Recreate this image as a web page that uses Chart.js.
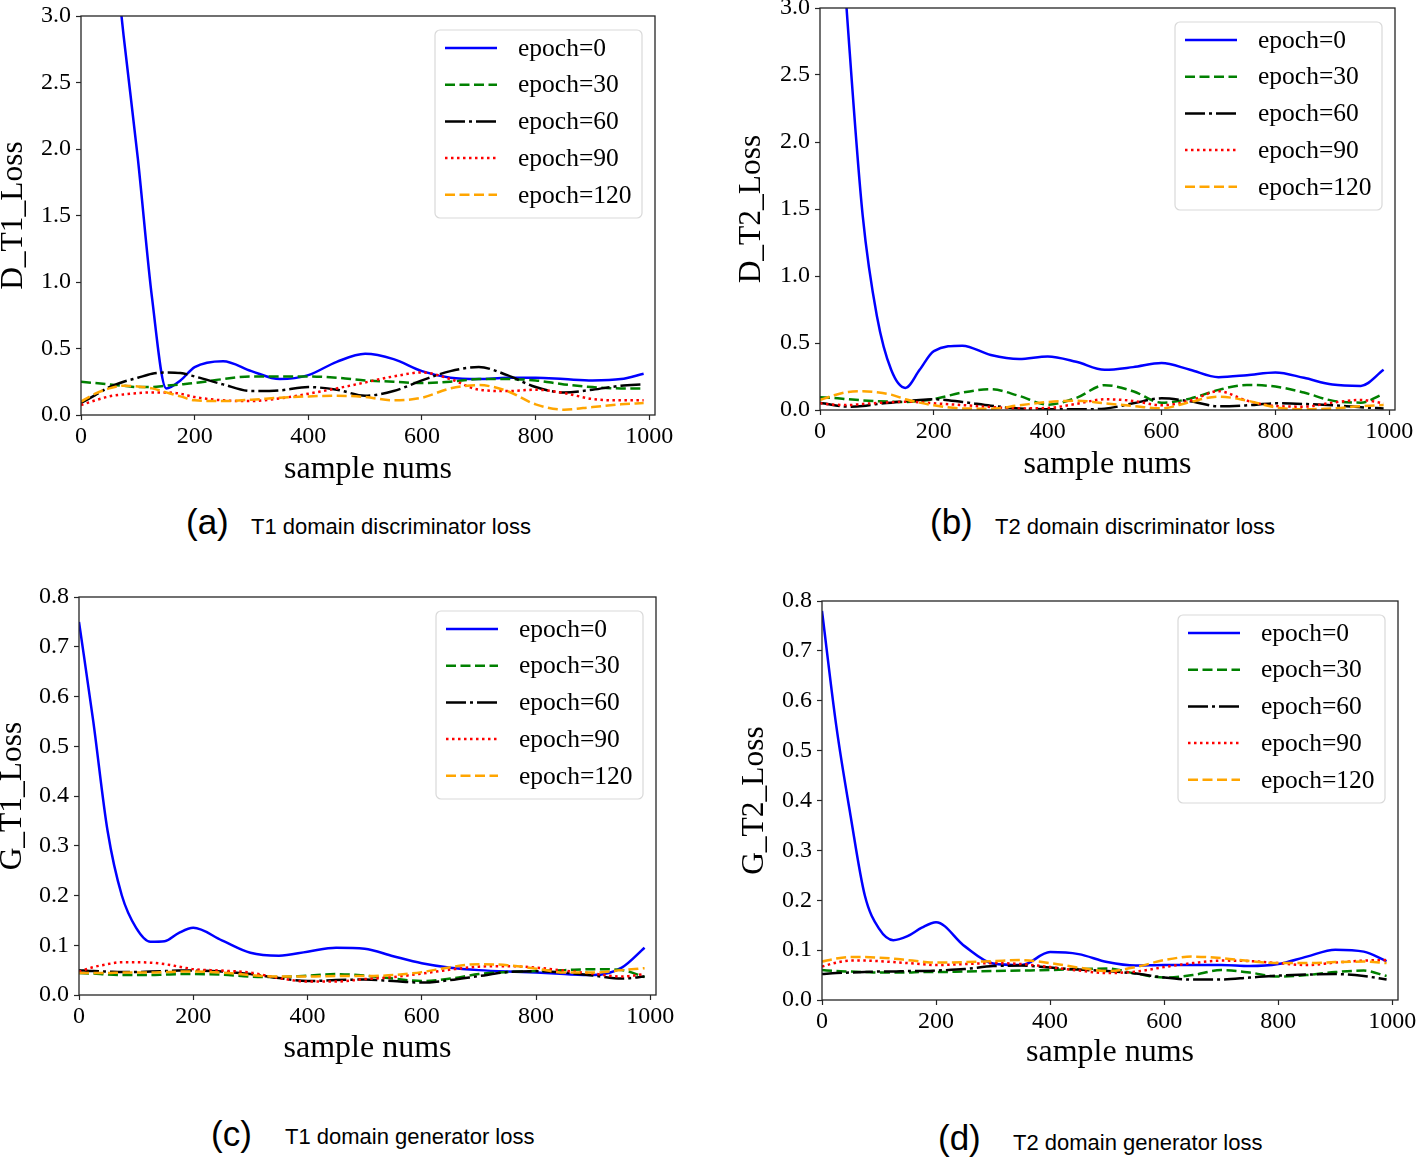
<!DOCTYPE html>
<html><head><meta charset="utf-8">
<script src="https://cdn.jsdelivr.net/npm/chart.js@4.4.1/dist/chart.umd.min.js"></script>
<style>
body{margin:0;background:#fff;width:1418px;height:1157px;position:relative;overflow:hidden}
canvas{position:absolute}
.cap{position:absolute;font-family:"Liberation Sans",Arial,sans-serif;color:#000;white-space:nowrap}
.big{font-size:35px;line-height:40px}
.small{font-size:22px;line-height:26px}
</style></head><body>
<canvas id="ca" width="709" height="500" style="left:0;top:0"></canvas>
<canvas id="cb" width="709" height="500" style="left:709px;top:0"></canvas>
<canvas id="cc" width="709" height="500" style="left:0;top:580px"></canvas>
<canvas id="cd" width="709" height="500" style="left:709px;top:580px"></canvas>

<div class="cap big" style="left:186px;top:502px">(a)</div>
<div class="cap small" style="left:251px;top:514px">T1 domain discriminator loss</div>
<div class="cap big" style="left:930px;top:502px">(b)</div>
<div class="cap small" style="left:995px;top:514px">T2 domain discriminator loss</div>
<div class="cap big" style="left:211px;top:1114px">(c)</div>
<div class="cap small" style="left:285px;top:1124px">T1 domain generator loss</div>
<div class="cap big" style="left:938px;top:1118px">(d)</div>
<div class="cap small" style="left:1013px;top:1130px">T2 domain generator loss</div>

<script>
// ---- data ----
const sampleNums = [0,25,50,75,100,125,150,175,200,250,300,350,400,450,500,550,600,650,700,750,800,850,900,950,990];
const xTickValues = [0,200,400,600,800,1000];
const dTickValues = [0,0.5,1.0,1.5,2.0,2.5,3.0];
const gTickValues = [0,0.1,0.2,0.3,0.4,0.5,0.6,0.7,0.8];
const seriesLabels = ['epoch=0','epoch=30','epoch=60','epoch=90','epoch=120'];

// (a) D_T1_Loss
const blueA   = [6.3,5.0,3.85,2.85,1.93,0.88,0.2,0.26,0.36,0.405,0.33,0.27,0.30,0.40,0.46,0.42,0.33,0.28,0.27,0.28,0.28,0.27,0.26,0.27,0.31];
const greenA  = [0.25,0.24,0.23,0.22,0.21,0.21,0.22,0.23,0.24,0.27,0.29,0.29,0.29,0.28,0.26,0.25,0.24,0.25,0.27,0.27,0.26,0.23,0.21,0.2,0.2];
const blackA  = [0.09,0.15,0.21,0.25,0.28,0.31,0.32,0.315,0.29,0.23,0.18,0.185,0.21,0.19,0.145,0.18,0.26,0.33,0.36,0.3,0.21,0.17,0.19,0.22,0.23];
const redA    = [0.075,0.11,0.14,0.155,0.165,0.17,0.17,0.16,0.135,0.11,0.105,0.125,0.16,0.2,0.245,0.29,0.32,0.27,0.19,0.18,0.19,0.165,0.12,0.11,0.11];
const orangeA = [0.1,0.16,0.2,0.22,0.215,0.2,0.17,0.14,0.11,0.105,0.115,0.13,0.14,0.145,0.135,0.11,0.13,0.2,0.225,0.18,0.08,0.04,0.06,0.08,0.09];

// (b) D_T2_Loss
const blueB   = [6.5,4.4,2.8,1.45,0.7,0.3,0.165,0.3,0.44,0.48,0.41,0.38,0.40,0.36,0.30,0.32,0.35,0.30,0.245,0.26,0.28,0.24,0.19,0.18,0.30];
const greenB  = [0.095,0.09,0.08,0.072,0.066,0.062,0.06,0.068,0.082,0.13,0.155,0.105,0.04,0.09,0.185,0.14,0.055,0.085,0.15,0.187,0.175,0.13,0.07,0.055,0.12];
const blackB  = [0.055,0.035,0.025,0.03,0.045,0.055,0.065,0.075,0.08,0.06,0.032,0.012,0.006,0.005,0.01,0.05,0.087,0.065,0.028,0.035,0.05,0.045,0.035,0.02,0.012];
const redB    = [0.05,0.04,0.037,0.045,0.052,0.058,0.062,0.058,0.05,0.037,0.022,0.012,0.015,0.045,0.08,0.068,0.035,0.07,0.14,0.07,0.03,0.025,0.055,0.075,0.05];
const orangeB = [0.075,0.11,0.135,0.14,0.132,0.115,0.08,0.055,0.035,0.012,0.01,0.035,0.06,0.07,0.05,0.03,0.012,0.06,0.1,0.07,0.02,0.005,0.012,0.028,0.037];

// (c) G_T1_Loss
const blueC   = [0.75,0.55,0.33,0.2,0.135,0.107,0.108,0.125,0.135,0.11,0.085,0.079,0.087,0.095,0.093,0.078,0.064,0.055,0.05,0.047,0.045,0.042,0.04,0.055,0.095];
const greenC  = [0.044,0.043,0.041,0.04,0.04,0.04,0.041,0.042,0.042,0.041,0.037,0.036,0.039,0.042,0.039,0.033,0.028,0.033,0.042,0.046,0.048,0.05,0.052,0.05,0.036];
const blackC  = [0.05,0.048,0.047,0.046,0.046,0.047,0.048,0.049,0.049,0.047,0.042,0.034,0.028,0.03,0.031,0.028,0.025,0.03,0.038,0.046,0.048,0.045,0.039,0.033,0.037];
const redC    = [0.047,0.056,0.062,0.066,0.066,0.065,0.062,0.057,0.052,0.049,0.045,0.034,0.027,0.027,0.032,0.036,0.043,0.051,0.057,0.058,0.055,0.049,0.043,0.037,0.042];
const orangeC = [0.044,0.044,0.044,0.045,0.045,0.045,0.046,0.047,0.047,0.045,0.04,0.037,0.037,0.038,0.038,0.04,0.046,0.056,0.062,0.06,0.053,0.045,0.045,0.05,0.054];

// (d) G_T2_Loss
const blueD   = [0.78,0.55,0.37,0.21,0.143,0.12,0.128,0.145,0.156,0.108,0.073,0.07,0.096,0.092,0.076,0.069,0.07,0.07,0.07,0.068,0.072,0.087,0.101,0.097,0.078];
const greenD  = [0.06,0.058,0.057,0.056,0.055,0.055,0.055,0.056,0.056,0.057,0.058,0.059,0.06,0.062,0.063,0.053,0.045,0.05,0.06,0.055,0.047,0.05,0.056,0.059,0.048];
const blackD  = [0.052,0.054,0.055,0.056,0.057,0.057,0.058,0.058,0.059,0.062,0.068,0.069,0.065,0.061,0.058,0.053,0.045,0.041,0.041,0.045,0.049,0.051,0.052,0.048,0.041];
const redD    = [0.067,0.075,0.079,0.079,0.078,0.076,0.074,0.072,0.07,0.072,0.074,0.072,0.066,0.059,0.054,0.057,0.066,0.074,0.079,0.078,0.074,0.07,0.075,0.079,0.08];
const orangeD = [0.077,0.083,0.086,0.086,0.085,0.083,0.08,0.077,0.075,0.076,0.078,0.08,0.074,0.065,0.058,0.066,0.08,0.087,0.084,0.078,0.074,0.074,0.076,0.077,0.074];

// ---- styles ----
const SERIF = '"Liberation Serif","Times New Roman",serif';
const lineStyles = [
  {color:'#0000ff', dash:[]},
  {color:'#008000', dash:[10,4.5]},
  {color:'#000000', dash:[20,4,3,4]},
  {color:'#ff0000', dash:[2.5,3.5]},
  {color:'#ffa500', dash:[10,4.5]}
];
const FRAME = '#262626';

const framePlugin = {
  id:'frameBox',
  afterDatasetsDraw(chart){
    const a = chart.chartArea, ctx = chart.ctx;
    ctx.save();
    ctx.strokeStyle = FRAME; ctx.lineWidth = 1.3;
    ctx.strokeRect(a.left, a.top, a.right - a.left, a.bottom - a.top);
    ctx.restore();
  }
};
const legendPlugin = {
  id:'insideLegend',
  afterDatasetsDraw(chart){
    const ctx = chart.ctx, a = chart.chartArea;
    const bw = 207, bh = 188;
    const bx = a.right - 13 - bw, by = a.top + 14;
    ctx.save();
    ctx.beginPath();
    ctx.roundRect(bx, by, bw, bh, 5);
    ctx.fillStyle = 'rgba(255,255,255,0.85)'; ctx.fill();
    ctx.strokeStyle = '#d9d9d9'; ctx.lineWidth = 1.2; ctx.stroke();
    chart.data.datasets.forEach((ds, i) => {
      const y = by + 18 + i * 36.7;
      ctx.beginPath();
      ctx.setLineDash(ds.borderDash || []);
      ctx.strokeStyle = ds.borderColor; ctx.lineWidth = ds.borderWidth;
      ctx.moveTo(bx + 10, y); ctx.lineTo(bx + 62, y); ctx.stroke();
      ctx.setLineDash([]);
      ctx.fillStyle = '#000';
      ctx.font = '25.5px ' + SERIF;
      ctx.textBaseline = 'middle'; ctx.textAlign = 'left';
      ctx.fillText(ds.label, bx + 83, y + 1);
    });
    ctx.restore();
  }
};

function makeChart(id, cfg){
  const W = 709, H = 500;
  const datasets = cfg.series.map((vals, i) => ({
    label: seriesLabels[i],
    data: sampleNums.map((x, k) => ({x, y: vals[k]})),
    borderColor: lineStyles[i].color,
    borderDash: lineStyles[i].dash,
    borderWidth: 2.5,
    pointRadius: 0,
    fill: false,
    cubicInterpolationMode: 'monotone',
    order: 5 - i
  }));
  const a = cfg.area;
  new Chart(document.getElementById(id), {
    type: 'line',
    data: { datasets },
    plugins: [framePlugin, legendPlugin],
    options: {
      responsive: false, animation: false, devicePixelRatio: 1,
      layout: { padding: { left: 0, top: a.t, right: W - a.r, bottom: 0 } },
      plugins: { legend: { display: false }, tooltip: { enabled: false } },
      scales: {
        x: {
          type: 'linear', min: 0, max: 1010,
          afterBuildTicks: s => { s.ticks = xTickValues.map(v => ({value: v})); },
          afterFit: s => { s.height = H - a.b; s.paddingLeft = 0; s.paddingRight = 0; },
          border: { display: false },
          grid: { display: true, drawOnChartArea: false, drawTicks: true, tickLength: 5, tickColor: FRAME, tickWidth: 1.2 },
          ticks: { color: '#000', font: { family: SERIF, size: 24 }, padding: 2, maxRotation: 0, autoSkip: false,
                   callback: v => String(v) },
          title: { display: true, text: 'sample nums', color: '#000',
                   font: { family: SERIF, size: 32, lineHeight: 1 }, padding: { top: 0, bottom: H - 16 - cfg.xTitleY } }
        },
        y: {
          type: 'linear', min: 0, max: cfg.yMax,
          afterBuildTicks: s => { s.ticks = cfg.yTicks.map(v => ({value: v})); },
          afterFit: s => { s.width = a.l; s.paddingTop = 0; s.paddingBottom = 0; },
          border: { display: false },
          grid: { display: true, drawOnChartArea: false, drawTicks: true, tickLength: 5, tickColor: FRAME, tickWidth: 1.2 },
          ticks: { color: '#000', font: { family: SERIF, size: 24 }, padding: 5, autoSkip: false,
                   callback: v => Number(v).toFixed(1) },
          title: { display: true, text: cfg.yTitle, color: '#000',
                   font: { family: SERIF, size: 31.5, lineHeight: 1 }, padding: { top: cfg.yTitleX - 15.75, bottom: 0 } }
        }
      }
    }
  });
}

makeChart('ca', { area:{l:81, t:16, r:655, b:415}, yMax:3.0, yTicks:dTickValues, yTitle:'D_T1_Loss',
  xTitleY:470, yTitleX:14, series:[blueA, greenA, blackA, redA, orangeA] });
makeChart('cb', { area:{l:111, t:8, r:686, b:410}, yMax:3.0, yTicks:dTickValues, yTitle:'D_T2_Loss',
  xTitleY:465, yTitleX:43, series:[blueB, greenB, blackB, redB, orangeB] });
makeChart('cc', { area:{l:79, t:17, r:656, b:415}, yMax:0.8, yTicks:gTickValues, yTitle:'G_T1_Loss',
  xTitleY:469, yTitleX:13, series:[blueC, greenC, blackC, redC, orangeC] });
makeChart('cd', { area:{l:113, t:21, r:689, b:420}, yMax:0.8, yTicks:gTickValues, yTitle:'G_T2_Loss',
  xTitleY:473, yTitleX:46, series:[blueD, greenD, blackD, redD, orangeD] });
</script>
</body></html>
